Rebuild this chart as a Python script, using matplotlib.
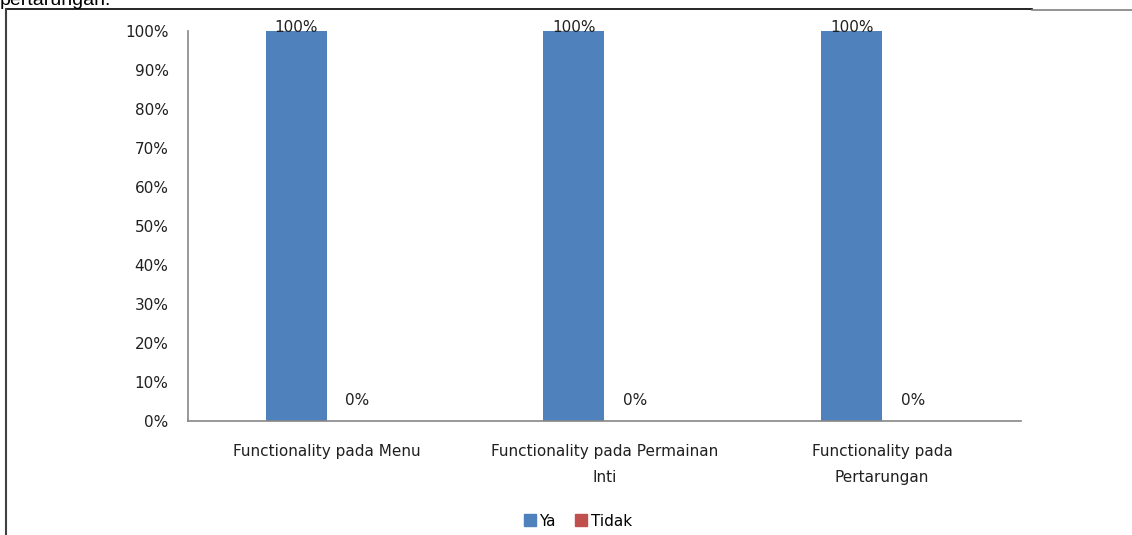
import matplotlib.pyplot as plt
import numpy as np
from matplotlib.lines import Line2D

categories = ["Functionality pada Menu",
              "Functionality pada Permainan\nInti",
              "Functionality pada\nPertarungan"]
ya = [1.0, 1.0, 1.0]
tidak = [0.0, 0.0, 0.0]
yticks = [0, 0.1, 0.2, 0.3, 0.4, 0.5, 0.6, 0.7, 0.8, 0.9, 1.0]

W, H = 1132, 535
fig = plt.figure(figsize=(W / 100, H / 100), dpi=100)
plt.rcParams['font.family'] = ['DejaVu Sans']
FS = 11

# page frame and the cut-off caption above the chart
fig.add_artist(Line2D([6 / W, 1032 / W], [1 - 9 / H, 1 - 9 / H], color="black", lw=1.2))
fig.add_artist(Line2D([1032 / W, 1], [1 - 10 / H, 1 - 10 / H], color="#808080", lw=1.2))
fig.add_artist(Line2D([6 / W, 6 / W], [1 - 9 / H, 0], color="#404040", lw=1.5))
fig.text(0, 1 - 5 / H, "pertarungan.", family="Liberation Sans", fontsize=14,
         va="baseline", ha="left")

ax = fig.add_axes([188 / W, 1 - 421 / H, (1021 - 188) / W, (421 - 31) / H])
x = np.arange(len(categories))
bw = 0.22
b1 = ax.bar(x - bw / 2, ya, bw, color="#4F81BD", label="Ya")
b2 = ax.bar(x + bw / 2, tidak, bw, color="#C0504D", label="Tidak")

for r, v in zip(b1, ya):
    ax.text(r.get_x() + r.get_width() / 2, v - 0.003, f"{v:.0%}", ha="center",
            va="baseline", fontsize=FS, color="#202020")
for r, v in zip(b2, tidak):
    ax.text(r.get_x() + r.get_width() / 2, v + 0.04, f"{v:.0%}", ha="center",
            va="baseline", fontsize=FS, color="#202020")

ax.set_xlim(-0.5, len(categories) - 0.5)
ax.set_ylim(0, 1)
ax.set_yticks(yticks)
ax.set_yticklabels([f"{t:.0%}" for t in yticks], fontsize=FS, color="#202020")
ax.set_xticks(x)
ax.set_xticklabels(categories, fontsize=FS, color="#202020", linespacing=1.9)
ax.tick_params(axis="both", length=0)
ax.tick_params(axis="y", pad=14)
ax.tick_params(axis="x", pad=16.5)
for s in ["top", "right"]:
    ax.spines[s].set_visible(False)
for s in ["left", "bottom"]:
    ax.spines[s].set_color("#868686")
    ax.spines[s].set_linewidth(1.2)

handles = [Line2D([], [], marker="s", ls="", color="#4F81BD", markersize=8),
           Line2D([], [], marker="s", ls="", color="#C0504D", markersize=8)]
fig.legend(handles, ["Ya", "Tidak"], loc="center", bbox_to_anchor=(577 / W, 1 - 521 / H),
           ncol=2, frameon=False, fontsize=FS, handletextpad=0.1, columnspacing=1.2,
           handlelength=1.0)

fig.savefig("out.png", dpi=100)
